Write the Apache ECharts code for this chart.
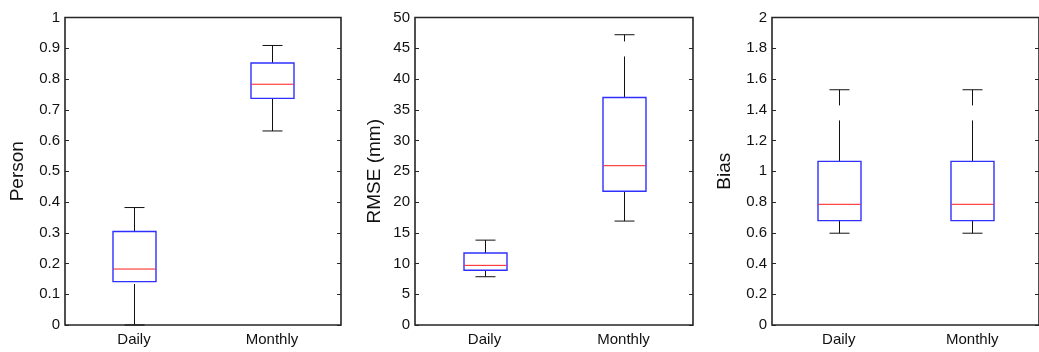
<!DOCTYPE html>
<html>
<head>
<meta charset="utf-8">
<title>Box plots</title>
<script src="https://cdn.jsdelivr.net/npm/echarts@6/dist/echarts.min.js"></script>
<style>
  html, body { margin: 0; padding: 0; background: #fff; }
  #chart { width: 1039px; height: 352px; }
</style>
</head>
<body>
<div id="chart"></div>
<script>
// Categories and five-number summaries: [lower whisker, Q1, median, Q3, upper whisker]
const categories = ['Daily', 'Monthly'];
const personStats = [
  [0, 0.141, 0.182, 0.304, 0.382],
  [0.631, 0.737, 0.783, 0.852, 0.909]
];
const rmseStats = [
  [7.85, 8.9, 9.7, 11.7, 13.8],
  [16.9, 21.75, 25.9, 37.0, 47.2]
];
const biasStats = [
  [0.597, 0.679, 0.785, 1.064, 1.53],
  [0.597, 0.679, 0.785, 1.064, 1.53]
];
const axisNames = ['Person', 'RMSE (mm)', 'Bias'];
const yMax = [1, 50, 2];
const yStep = [0.1, 5, 0.2];

const FONT = "'Liberation Sans', Arial, Helvetica, sans-serif";
const FRAME = '#262626';

// MATLAB-style box: blue box, red median, dashed black whiskers with caps
function renderBox(params, api) {
  const idx = api.value(0);
  const lo = api.coord([idx, api.value(1)]);
  const q1 = api.coord([idx, api.value(2)]);
  const med = api.coord([idx, api.value(3)]);
  const q3 = api.coord([idx, api.value(4)]);
  const hi = api.coord([idx, api.value(5)]);
  const cx = Math.round(lo[0]) + 0.5;
  const half = 21;
  const cap = 10;
  const whisker = { stroke: '#111', lineWidth: 1, lineDash: [41, 15], fill: null };
  return {
    type: 'group',
    children: [
      { type: 'line', shape: { x1: cx, y1: lo[1], x2: cx, y2: q1[1] }, style: whisker },
      { type: 'line', shape: { x1: cx, y1: q3[1], x2: cx, y2: hi[1] }, style: whisker },
      { type: 'line', shape: { x1: cx - cap, y1: lo[1], x2: cx + cap, y2: lo[1] },
        style: { stroke: '#111', lineWidth: 1 } },
      { type: 'line', shape: { x1: cx - cap, y1: hi[1], x2: cx + cap, y2: hi[1] },
        style: { stroke: '#111', lineWidth: 1 } },
      { type: 'rect', shape: { x: cx - half - 0.5, y: q3[1], width: 2 * half + 1, height: q1[1] - q3[1] },
        style: { stroke: '#2f2fff', lineWidth: 1.4, fill: null } },
      { type: 'line', shape: { x1: cx - half, y1: med[1], x2: cx + half, y2: med[1] },
        style: { stroke: '#ff1a1a', lineWidth: 1 } }
    ]
  };
}

const panels = [
  { left: 65, width: 276, stats: personStats, nameGap: 38 },
  { left: 415, width: 278, stats: rmseStats, nameGap: 31 },
  { left: 772, width: 273, stats: biasStats, nameGap: 38 }
];

const grid = [], xAxis = [], yAxis = [], series = [];
panels.forEach((p, i) => {
  grid.push({
    left: p.left, width: p.width, top: 17.5, height: 307.5,
    show: true, borderColor: FRAME, borderWidth: 1.6, backgroundColor: 'transparent'
  });
  xAxis.push({
    type: 'category', gridIndex: i, data: categories,
    axisLine: { show: false }, axisTick: { show: false },
    axisLabel: { color: '#111', fontFamily: FONT, fontSize: 15, margin: 7 }
  });
  const yBase = {
    type: 'value', gridIndex: i, min: 0, max: yMax[i], interval: yStep[i],
    splitLine: { show: false }, axisLine: { show: false },
    axisTick: { show: true, inside: true, length: 4, lineStyle: { color: FRAME, width: 1 } }
  };
  yAxis.push(Object.assign({}, yBase, {
    position: 'left',
    name: axisNames[i], nameLocation: 'middle', nameGap: p.nameGap,
    nameTextStyle: { color: '#111', fontFamily: FONT, fontSize: 19 },
    axisLabel: { color: '#111', fontFamily: FONT, fontSize: 15, margin: 5 }
  }));
  yAxis.push(Object.assign({}, yBase, {
    position: 'right',
    axisLabel: { show: false }
  }));
  series.push({
    type: 'custom',
    xAxisIndex: i, yAxisIndex: 2 * i,
    renderItem: renderBox,
    encode: { x: 0, y: [1, 2, 3, 4, 5] },
    data: p.stats.map((s, k) => [k].concat(s)),
    silent: true
  });
});

const chart = echarts.init(document.getElementById('chart'), null, { renderer: 'canvas' });
chart.setOption({
  animation: false,
  backgroundColor: '#fff',
  grid, xAxis, yAxis, series
});
</script>
</body>
</html>
